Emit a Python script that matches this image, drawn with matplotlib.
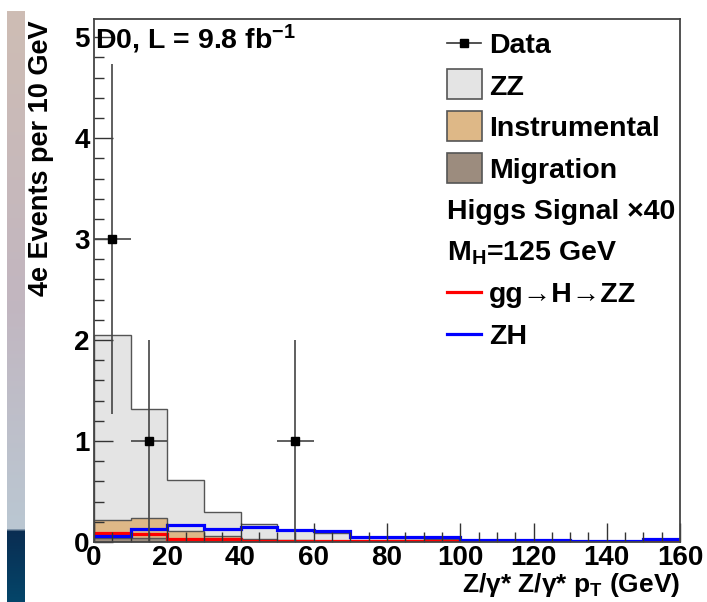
import numpy as np
import matplotlib
matplotlib.use("Agg")
import matplotlib.pyplot as plt
from matplotlib.patches import Rectangle
from matplotlib.lines import Line2D
from matplotlib.ticker import MultipleLocator

plt.rcParams['font.family'] = ['Liberation Sans', 'DejaVu Sans']
plt.rcParams['font.weight'] = 'bold'
plt.rcParams['mathtext.fontset'] = 'custom'
plt.rcParams['mathtext.rm'] = 'Liberation Sans:bold'
plt.rcParams['mathtext.bf'] = 'Liberation Sans:bold'
plt.rcParams['mathtext.it'] = 'Liberation Sans:bold:italic'
plt.rcParams['mathtext.default'] = 'rm'

# ---------------- data ----------------
bin_edges = [0, 10, 20, 30, 40, 50, 60, 70, 80, 90, 100, 110, 120, 130, 140, 150, 160]
migration = [0.04, 0.035, 0.02, 0.015, 0.01, 0.005, 0.005, 0.003, 0.002, 0.002,
             0.001, 0.001, 0.001, 0.001, 0.001, 0.001]
instrumental = [0.18, 0.20, 0.09, 0.045, 0.02, 0.01, 0.008, 0.005, 0.003, 0.003,
                0.002, 0.002, 0.001, 0.001, 0.001, 0.001]
zz = [1.83, 1.085, 0.50, 0.24, 0.145, 0.105, 0.077, 0.037, 0.03, 0.025,
      0.017, 0.012, 0.01, 0.008, 0.008, 0.008]
ggH = [0.088, 0.078, 0.03, 0.025, 0.012, 0.01, 0.01, 0.01, 0.01, 0.01,
       0.004, 0.004, 0.004, 0.004, 0.004, 0.004]
zh = [0.06, 0.13, 0.17, 0.125, 0.15, 0.12, 0.11, 0.05, 0.045, 0.045,
      0.017, 0.017, 0.017, 0.01, 0.01, 0.03]
data_x = [5, 15, 55]
data_y = [3, 1, 1]
data_err = [1.73, 1.0, 1.0]
data_xerr = [5, 5, 5]

x_ticks = [0, 20, 40, 60, 80, 100, 120, 140, 160]
y_ticks = [0, 1, 2, 3, 4, 5]

# colours
c_zz = '#e4e4e4'
c_inst = '#deb887'
c_mig = '#9c8c7e'
c_edge = '#555555'

W, H = 707, 602
fig = plt.figure(figsize=(W / 100, H / 100), dpi=100)

def fx(px):
    return px / W

def fy(py):
    return 1 - py / H

# decorative left strip
sax = fig.add_axes([fx(7), 0, fx(25) - fx(7), fy(11)])
rows = np.arange(11, 602)
cp_y = [11, 300, 528, 531, 602]
cp_r = [206, 194, 186, 10, 4]
cp_g = [189, 182, 199, 45, 70]
cp_b = [180, 192, 210, 82, 106]
grad = np.stack([np.interp(rows, cp_y, cp_r),
                 np.interp(rows, cp_y, cp_g),
                 np.interp(rows, cp_y, cp_b)], axis=-1)[:, None, :] / 255.0
sax.imshow(grad, aspect='auto', interpolation='nearest')
sax.axis('off')

ax = fig.add_axes([fx(94), fy(542), fx(680) - fx(94), fy(19) - fy(542)])

edges = np.array(bin_edges, dtype=float)
mig = np.array(migration)
inst = np.array(instrumental)
zzv = np.array(zz)
cum1 = mig
cum2 = mig + inst
cum3 = cum2 + zzv

for top, col in [(cum3, c_zz), (cum2, c_inst), (cum1, c_mig)]:
    ax.stairs(top, edges, baseline=0, fill=True, color=col, lw=0)
    ax.stairs(top, edges, baseline=0, fill=False, color=c_edge, lw=1.0)

ax.stairs(ggH, edges, baseline=None, color='#ff0000', lw=2.3)
ax.stairs(zh, edges, baseline=None, color='#0000ff', lw=2.3)

ax.errorbar(data_x, data_y, yerr=data_err, xerr=data_xerr, fmt='s', color='black',
            ecolor='#444444', elinewidth=1.2, markersize=5.5, capsize=0, zorder=5)

ax.set_xlim(0, 160)
ax.set_ylim(0, 5.18)
ax.set_xticks(x_ticks)
ax.set_yticks(y_ticks)
ax.xaxis.set_minor_locator(MultipleLocator(5))
ax.yaxis.set_minor_locator(MultipleLocator(0.2))
ax.tick_params(which='both', direction='in', top=False, right=False, color='#333333', width=1.0)
ax.tick_params(which='major', length=14)
ax.tick_params(which='minor', length=7)
ax.tick_params(axis='x', which='major', labelsize=20, pad=2.5)
ax.tick_params(axis='y', which='major', labelsize=20, pad=3)
for s in ax.spines.values():
    s.set_color('#444444')
    s.set_linewidth(1.3)
for lab in ax.get_xticklabels() + ax.get_yticklabels():
    lab.set_fontweight('bold')

# axis titles
fig.text(fx(41), fy(20), '4e Events per 10 GeV', rotation=90, ha='center', va='top',
         fontsize=19.5, fontweight='bold')
fig.text(fx(680), fy(592), r'Z/γ* Z/γ* p$_{\mathrm{T}}$ (GeV)', ha='right', va='baseline',
         fontsize=19, fontweight='bold')

# experiment label
fig.text(fx(95), fy(49), r'D0, L = 9.8 fb$^{-1}$', ha='left', va='baseline',
         fontsize=20.5, fontweight='bold')

# legend (manual)
fs_leg = 20.5
row_c = [43, 84.5, 126, 167.5, 209, 250.5, 292, 333.5]
txt_x = fx(489)

def leg_text(x, yc, s):
    fig.text(x, fy(yc + 10), s, ha='left', va='baseline', fontsize=fs_leg, fontweight='bold')

# Data
fig.add_artist(Line2D([fx(447), fx(481)], [fy(row_c[0])] * 2, color='#333333', lw=1.2,
                      transform=fig.transFigure))
fig.add_artist(Line2D([fx(464)], [fy(row_c[0])], marker='s', color='black', markersize=5.5,
                      transform=fig.transFigure))
leg_text(txt_x, row_c[0], 'Data')
for i, (lab, col) in enumerate([('ZZ', c_zz), ('Instrumental', c_inst), ('Migration', c_mig)]):
    yc = row_c[i + 1]
    fig.add_artist(Rectangle((fx(447), fy(yc + 15)), fx(482) - fx(447), fy(yc - 15) - fy(yc + 15),
                             facecolor=col, edgecolor='#555555', lw=1.2,
                             transform=fig.transFigure))
    leg_text(txt_x, yc, lab)
leg_text(fx(447), row_c[4], 'Higgs Signal ×40')
leg_text(fx(447), row_c[5], r'M$_{\mathrm{H}}$=125 GeV')
for i, (lab, col) in enumerate([('gg→H→ZZ', '#ff0000'), ('ZH', '#0000ff')]):
    yc = row_c[6 + i]
    fig.add_artist(Line2D([fx(447), fx(481)], [fy(yc)] * 2, color=col, lw=2.3,
                          transform=fig.transFigure))
    leg_text(txt_x, yc, lab)

fig.savefig('out.png', dpi=100)
